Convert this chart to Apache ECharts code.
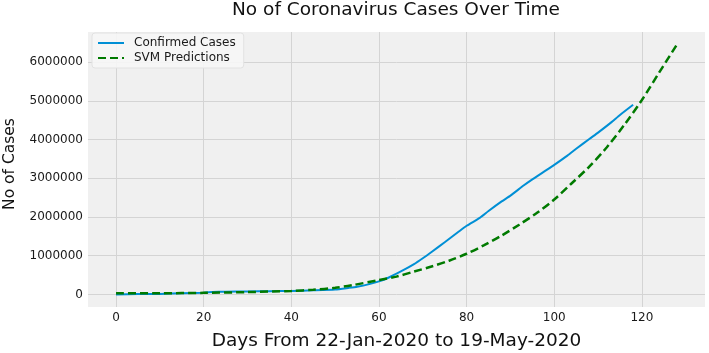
<!DOCTYPE html>
<html>
<head>
<meta charset="utf-8">
<script src="https://cdn.jsdelivr.net/npm/echarts@6/dist/echarts.min.js"></script>
<style>html,body{margin:0;padding:0;background:#fff;}#chart{width:709px;height:353px;}</style>
</head>
<body>
<div id="chart"></div>
<script>
// Days since 22-Jan-2020 and confirmed cases
const confirmedDays = [0,5,10,15,20,22,25,30,35,40,45,50,53,55,58,60,62,65,68,70,72,75,78,80,83,85,88,90,93,95,98,100,103,105,108,110,113,115,118];
const confirmedCases = [0,10000,12000,30000,45000,60000,71000,77000,82000,90000,106000,128000,167000,197000,272000,337000,423000,593000,782000,933000,1096000,1346000,1603000,1772000,1976000,2153000,2401000,2549000,2811000,2971000,3194000,3344000,3583000,3760000,4014000,4178000,4442000,4634000,4897000];
// SVM prediction curve
const predDays = [0,10,20,30,40,45,50,54,60,64,68,72,76,80,84,88,92,96,100,104,108,112,116,120,124,128];
const predCases = [30000,30000,40000,60000,90000,120000,170000,240000,370000,460000,590000,720000,870000,1050000,1270000,1520000,1800000,2100000,2450000,2870000,3300000,3800000,4380000,5020000,5740000,6450000];
const xTicks = [0,20,40,60,80,100,120];
const yTicks = [0,1000000,2000000,3000000,4000000,5000000,6000000];
const seriesNames = ['Confirmed Cases','SVM Predictions'];
const titleText = 'No of Coronavirus Cases Over Time';
const xName = 'Days From 22-Jan-2020 to 19-May-2020';
const yName = 'No of Cases';

const font = 'DejaVu Sans';
const chart = echarts.init(document.getElementById('chart'), null, {renderer:'canvas'});
chart.setOption({
  animation: false,
  backgroundColor: '#ffffff',
  textStyle: {fontFamily: font},
  title: {
    text: titleText, left: 396, top: 1, padding: 0, textAlign: 'center',
    textStyle: {fontFamily: font, fontSize: 18.5, fontWeight: 'normal', color: '#111'}
  },
  legend: {
    orient: 'vertical', left: 92, top: 33,
    padding: [4, 8, 4, 5], itemGap: 3, itemWidth: 26, itemHeight: 14,
    backgroundColor: 'rgba(246,246,246,0.9)', borderColor: '#e2e2e2', borderWidth: 1, borderRadius: 3,
    data: seriesNames,
    itemStyle: {opacity: 0},
    textStyle: {fontFamily: font, fontSize: 12, color: '#1a1a1a', padding: [0,0,0,5]}
  },
  grid: {
    left: 88, right: 4, top: 32, bottom: 46,
    outerBoundsMode: 'none', containLabel: false,
    show: true, backgroundColor: '#f0f0f0', borderWidth: 0
  },
  xAxis: {
    type: 'value', min: -6.4, max: 134.4,
    name: xName, nameLocation: 'middle', nameGap: 25,
    nameTextStyle: {fontFamily: font, fontSize: 18.5, color: '#111'},
    axisLine: {show: false}, axisTick: {show: false, customValues: xTicks},
    axisLabel: {customValues: xTicks, margin: 5, fontFamily: font, fontSize: 12, color: '#1a1a1a'},
    splitLine: {show: true, lineStyle: {color: '#d4d4d4', width: 1}}
  },
  yAxis: {
    type: 'value', min: -325000, max: 6775000,
    name: yName, nameLocation: 'middle', nameGap: 70,
    nameTextStyle: {fontFamily: font, fontSize: 15.5, color: '#111', padding: [0,0,0,11]},
    axisLine: {show: false}, axisTick: {show: false, customValues: yTicks},
    axisLabel: {customValues: yTicks, margin: 5, fontFamily: font, fontSize: 12, color: '#1a1a1a',
      formatter: v => String(v)},
    splitLine: {show: true, lineStyle: {color: '#d4d4d4', width: 1}}
  },
  series: [
    {
      name: seriesNames[0], type: 'line', symbol: 'none', smooth: 0.2,
      data: confirmedDays.map((d, i) => [d, confirmedCases[i]]),
      lineStyle: {color: '#008fd5', width: 2}, itemStyle: {color: '#008fd5'}
    },
    {
      name: seriesNames[1], type: 'line', symbol: 'none', smooth: 0.3,
      data: predDays.map((d, i) => [d, predCases[i]]),
      lineStyle: {color: '#007a00', width: 2.5, type: [8, 4]}, itemStyle: {color: '#007a00'}
    }
  ]
});
</script>
</body>
</html>
